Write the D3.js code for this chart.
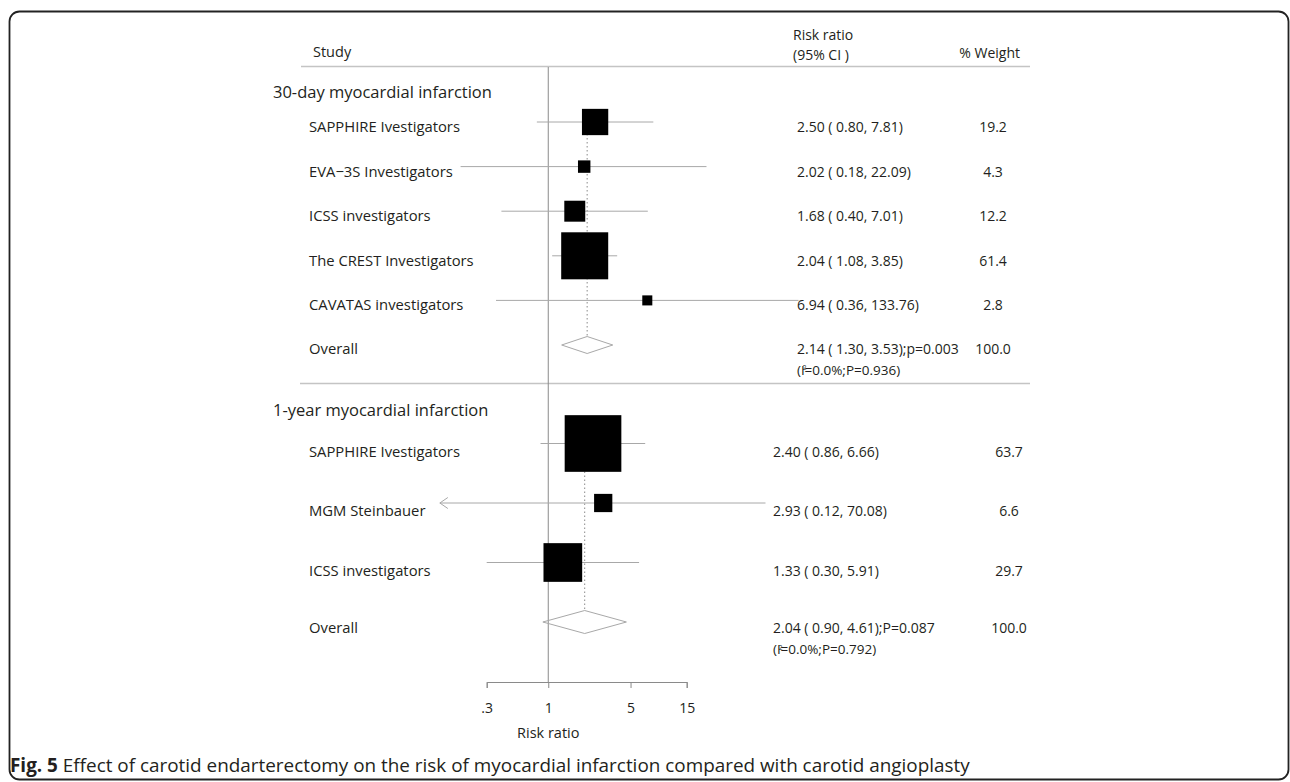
<!DOCTYPE html>
<html><head><meta charset="utf-8">
<script src="https://cdn.jsdelivr.net/npm/d3@7"></script>
<style>
body{margin:0;background:#fff}
svg{display:block}
text{font-family:"Open Sans",sans-serif;fill:#231f20}
</style>
</head><body>
<svg id="chart" width="1290" height="782"></svg>
<script>
// ---- data ----
const groupTitles = ["30-day myocardial infarction", "1-year myocardial infarction"];
const studies30 = ["SAPPHIRE Ivestigators", "EVA\u22123S Investigators", "ICSS investigators", "The CREST Investigators", "CAVATAS investigators"];
const rr30 = [2.50, 2.02, 1.68, 2.04, 6.94];
const lo30 = [0.80, 0.18, 0.40, 1.08, 0.36];
const hi30 = [7.81, 22.09, 7.01, 3.85, 133.76];
const weight30 = [19.2, 4.3, 12.2, 61.4, 2.8];
const arrow30 = [false, false, false, false, false];

const studies1y = ["SAPPHIRE Ivestigators", "MGM Steinbauer", "ICSS investigators"];
const rr1y = [2.40, 2.93, 1.33];
const lo1y = [0.86, 0.12, 0.30];
const hi1y = [6.66, 70.08, 5.91];
const weight1y = [63.7, 6.6, 29.7];
const arrow1y = [false, true, false];

const overallRR = [2.14, 2.04];
const overallLo = [1.30, 0.90];
const overallHi = [3.53, 4.61];
const overallP = ["p=0.003", "P=0.087"];
const overallI2 = ["0.0%", "0.0%"];
const overallHetP = ["0.936", "0.792"];
const overallWeight = [100.0, 100.0];

const tickValues = [0.3, 1, 5, 15];
const tickLabels = [".3", "1", "5", "15"];
const headerStudy = "Study";
const headerRR = ["Risk ratio", "(95% CI )"];
const headerWeight = "% Weight";
const axisTitle = "Risk ratio";
const captionBold = "Fig. 5";
const captionText = " Effect of carotid endarterectomy on the risk of myocardial infarction compared with carotid angioplasty";

// ---- layout ----
const svg = d3.select("#chart");
const x = d3.scaleLog().domain([0.3, 15]).range([486.7, 686.7]);
const fmt = d3.format(".2f");
const fmtW = d3.format(".1f");

const sections = [
  {title: groupTitles[0], names: studies30, rr: rr30, lo: lo30, hi: hi30, w: weight30, arrow: arrow30,
   titleY: 98, y0: 122, step: 44.6, boxK: 6.0, dH: 8.5, estX: 797, wX: 993, off: 10, ovOff: 8.5},
  {title: groupTitles[1], names: studies1y, rr: rr1y, lo: lo1y, hi: hi1y, w: weight1y, arrow: arrow1y,
   titleY: 416, y0: 443.5, step: 59.5, boxK: 7.1, dH: 11.5, estX: 773, wX: 1009, off: 13, ovOff: 11}
];

// frame
svg.append("rect").attr("x", 9.5).attr("y", 11.5).attr("width", 1279).attr("height", 768)
  .attr("rx", 10).attr("fill", "none").attr("stroke", "#222").attr("stroke-width", 1.8);

// headers
svg.append("text").attr("x", 313).attr("y", 57).attr("font-size", 14.5).text(headerStudy);
svg.append("text").attr("x", 793).attr("y", 40).attr("font-size", 14).text(headerRR[0]);
svg.append("text").attr("x", 793).attr("y", 60).attr("font-size", 14).text(headerRR[1]);
svg.append("text").attr("x", 1020).attr("y", 58).attr("font-size", 14).attr("text-anchor", "end").text(headerWeight);

// horizontal rules
svg.append("line").attr("x1", 301).attr("x2", 1030).attr("y1", 66.5).attr("y2", 66.5)
  .attr("stroke", "#c4c4c4").attr("stroke-width", 1.5);
svg.append("line").attr("x1", 300).attr("x2", 1030).attr("y1", 383.5).attr("y2", 383.5)
  .attr("stroke", "#c4c4c4").attr("stroke-width", 1.5);

// null line
svg.append("line").attr("x1", x(1)).attr("x2", x(1)).attr("y1", 67).attr("y2", 682)
  .attr("stroke", "#8a8a8a").attr("stroke-width", 1);

sections.forEach((s, si) => {
  const g = svg.append("g");
  const rowY = i => s.y0 + i * s.step;
  const ovY = rowY(s.names.length);

  g.append("text").attr("x", 273).attr("y", s.titleY).attr("font-size", 16.5).text(s.title);

  // dotted overall line
  g.append("line").attr("x1", x(overallRR[si])).attr("x2", x(overallRR[si]))
    .attr("y1", rowY(0)).attr("y2", ovY - s.dH)
    .attr("stroke", "#8a8a8a").attr("stroke-width", 1).attr("stroke-dasharray", "1.5,2.5");

  // CI lines
  g.selectAll("line.ci").data(s.names).join("line").attr("class", "ci")
    .attr("x1", (d, i) => x(s.lo[i])).attr("x2", (d, i) => x(s.hi[i]))
    .attr("y1", (d, i) => rowY(i)).attr("y2", (d, i) => rowY(i))
    .attr("stroke", "#a8a8a8").attr("stroke-width", 1);

  // arrows for truncated CI
  g.selectAll("path.arr").data(s.names.map((d, i) => i).filter(i => s.arrow[i])).join("path")
    .attr("class", "arr")
    .attr("d", i => { const tx = x(s.lo[i]), ty = rowY(i); return `M${tx + 8},${ty - 5.5}L${tx},${ty}L${tx + 8},${ty + 5.5}`; })
    .attr("fill", "none").attr("stroke", "#a8a8a8").attr("stroke-width", 1);

  // boxes
  g.selectAll("rect.box").data(s.names).join("rect").attr("class", "box")
    .attr("x", (d, i) => x(s.rr[i]) - s.boxK * Math.sqrt(s.w[i]) / 2)
    .attr("y", (d, i) => rowY(i) - s.boxK * Math.sqrt(s.w[i]) / 2)
    .attr("width", (d, i) => s.boxK * Math.sqrt(s.w[i]))
    .attr("height", (d, i) => s.boxK * Math.sqrt(s.w[i]))
    .attr("fill", "#000");

  // diamond
  g.append("path")
    .attr("d", `M${x(overallLo[si])},${ovY}L${x(overallRR[si])},${ovY - s.dH}L${x(overallHi[si])},${ovY}L${x(overallRR[si])},${ovY + s.dH}Z`)
    .attr("fill", "none").attr("stroke", "#a8a8a8").attr("stroke-width", 1);

  // labels
  g.selectAll("text.lab").data(s.names).join("text").attr("class", "lab")
    .attr("x", 309).attr("y", (d, i) => rowY(i) + s.off).attr("font-size", 14.8).text(d => d);
  g.selectAll("text.est").data(s.names).join("text").attr("class", "est")
    .attr("x", s.estX).attr("y", (d, i) => rowY(i) + s.off).attr("font-size", 14)
    .text((d, i) => `${fmt(s.rr[i])} ( ${fmt(s.lo[i])}, ${fmt(s.hi[i])})`);
  g.selectAll("text.wt").data(s.names).join("text").attr("class", "wt")
    .attr("x", s.wX).attr("y", (d, i) => rowY(i) + s.off).attr("font-size", 14).attr("text-anchor", "middle")
    .text((d, i) => fmtW(s.w[i]));

  // overall
  g.append("text").attr("x", 309).attr("y", ovY + s.ovOff).attr("font-size", 14.8).text("Overall");
  g.append("text").attr("x", s.estX).attr("y", ovY + s.ovOff).attr("font-size", 14)
    .text(`${fmt(overallRR[si])} ( ${fmt(overallLo[si])}, ${fmt(overallHi[si])});${overallP[si]}`);
  const het = g.append("text").attr("x", s.estX).attr("y", ovY + s.ovOff + 21).attr("font-size", 13.5);
  het.append("tspan").text("(I");
  het.append("tspan").attr("font-size", 6.5).attr("dx", -2).attr("dy", -4.5).text("2");
  het.append("tspan").attr("dy", 4.5).attr("dx", -2).text(`=${overallI2[si]};P=${overallHetP[si]})`);
  g.append("text").attr("x", s.wX).attr("y", ovY + s.ovOff).attr("font-size", 14).attr("text-anchor", "middle")
    .text(fmtW(overallWeight[si]));
});

// axis
const axis = d3.axisBottom(x).tickValues(tickValues).tickFormat((d, i) => tickLabels[i])
  .tickSizeOuter(0).tickSize(6).tickPadding(15);
const ag = svg.append("g").attr("transform", "translate(0,682)").call(axis);
ag.select(".domain").attr("stroke", "#8a8a8a");
ag.selectAll(".tick line").attr("stroke", "#8a8a8a");
ag.selectAll(".tick text").attr("font-size", 14).attr("font-family", '"Open Sans",sans-serif').attr("fill", "#231f20");
svg.append("text").attr("x", x(1)).attr("y", 738).attr("font-size", 14.5).attr("text-anchor", "middle").text(axisTitle);

// caption
const cap = svg.append("text").attr("x", 10).attr("y", 772).attr("font-size", 18.9);
cap.append("tspan").attr("font-weight", "bold").text(captionBold);
cap.append("tspan").text(captionText);
</script>
</body></html>
